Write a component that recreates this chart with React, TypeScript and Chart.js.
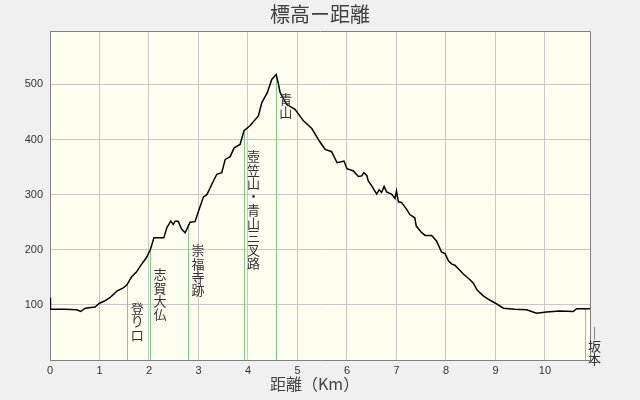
import React, { useEffect, useRef } from "react";
import { Chart, registerables } from "chart.js";

Chart.register(...registerables);

const chartTitle = "標高ー距離";
const xAxisTitle = "距離（Km）";

const distanceKm = [
  0, 0.01, 0.3, 0.54, 0.62, 0.71, 0.91, 1.0, 1.1, 1.21, 1.35, 1.48, 1.55, 1.65, 1.75, 1.82, 1.95, 2.03,
  2.1, 2.3, 2.36, 2.44, 2.49, 2.53, 2.59, 2.66, 2.73, 2.83, 2.93, 3.0, 3.1, 3.17, 3.27, 3.37, 3.47,
  3.54, 3.64, 3.72, 3.84, 3.92, 4.04, 4.21, 4.28, 4.39, 4.48, 4.57, 4.61, 4.65, 4.78, 4.95, 5.12,
  5.29, 5.45, 5.56, 5.69, 5.8, 5.94, 6.0, 6.13, 6.23, 6.3, 6.34, 6.4, 6.43, 6.5, 6.6, 6.65, 6.7,
  6.75, 6.8, 6.9, 6.97, 7.0, 7.04, 7.1, 7.21, 7.27, 7.37, 7.4, 7.51, 7.58, 7.71, 7.81, 7.91, 7.98,
  8.05, 8.12, 8.18, 8.28, 8.35, 8.48, 8.55, 8.63, 8.76, 8.86, 9.0, 9.16, 9.39, 9.63, 9.83, 10.03,
  10.3, 10.57, 10.64, 10.91,
];

const elevationM = [
  113, 92, 92, 91, 88, 94, 96, 103, 107, 113, 125, 131, 136, 151, 160, 170, 186, 201,
  222, 222, 240, 252, 246, 252, 252, 237, 231, 250, 251, 270, 296, 300, 319, 337, 340,
  364, 369, 385, 391, 416, 425, 443, 467, 485, 509, 518, 503, 485, 464, 455, 434,
  420, 396, 382, 378, 358, 361, 347, 343, 333, 334, 340, 335, 325, 316, 301, 309, 304,
  315, 305, 301, 293, 307, 287, 286, 273, 264, 258, 243, 231, 226, 226, 216, 196, 193,
  180, 174, 172, 163, 156, 146, 140, 127, 116, 110, 103, 94, 92, 91, 85, 87,
  89, 88, 93, 93,
];

const landmarkNames = ["登り口", "志賀大仏", "崇福寺跡", "壺笠山・青山三叉路", "青山", "｜坂本"];
const landmarkKm = [1.56, 2.02, 2.79, 3.91, 4.56, 10.8];

const xTickValues = [0, 1, 2, 3, 4, 5, 6, 7, 8, 9, 10];
const yTickValues = [0, 100, 200, 300, 400, 500];

const xMin = 0;
const xMax = 10.91;
const yMin = 0;
const yMax = 597;

function elevationAt(km: number): number {
  for (let i = 1; i < distanceKm.length; i++) {
    if (km <= distanceKm[i]) {
      const x0 = distanceKm[i - 1];
      const x1 = distanceKm[i];
      const t = x1 === x0 ? 0 : (km - x0) / (x1 - x0);
      return elevationM[i - 1] + t * (elevationM[i] - elevationM[i - 1]);
    }
  }
  return elevationM[elevationM.length - 1];
}

const decorPlugin = {
  id: "decor",
  beforeDraw(chart: any) {
    const { ctx, chartArea } = chart;
    ctx.save();
    ctx.fillStyle = "#f0f0f0";
    ctx.fillRect(0, 0, chart.width, chart.height);
    ctx.fillStyle = "#fffff0";
    ctx.fillRect(chartArea.left, chartArea.top, chartArea.right - chartArea.left, chartArea.bottom - chartArea.top);
    ctx.restore();
  },
  beforeDatasetsDraw(chart: any) {
    const { ctx, chartArea, scales } = chart;
    ctx.save();
    ctx.strokeStyle = "#80cc80";
    ctx.lineWidth = 1;
    landmarkKm.forEach((km) => {
      const x = Math.round(scales.x.getPixelForValue(km)) + 0.5;
      const yTop = scales.y.getPixelForValue(elevationAt(km));
      ctx.beginPath();
      ctx.moveTo(x, yTop);
      ctx.lineTo(x, chartArea.bottom);
      ctx.stroke();
    });
    ctx.restore();
  },
  afterDraw(chart: any) {
    const { ctx, chartArea, scales } = chart;
    ctx.save();
    ctx.strokeStyle = "#808080";
    ctx.lineWidth = 1;
    ctx.beginPath();
    ctx.moveTo(chartArea.left, chartArea.top + 0.5);
    ctx.lineTo(chartArea.right + 0.5, chartArea.top + 0.5);
    ctx.lineTo(chartArea.right + 0.5, chartArea.bottom);
    ctx.stroke();

    ctx.fillStyle = "#333333";
    ctx.font = '13px "Noto Sans CJK JP"';
    ctx.textAlign = "center";
    ctx.textBaseline = "middle";
    landmarkNames.forEach((name, i) => {
      const km = landmarkKm[i];
      const x = scales.x.getPixelForValue(km) + 10;
      const yTop = scales.y.getPixelForValue(elevationAt(km));
      Array.from(name).forEach((ch, j) => {
        ctx.fillText(ch, x, yTop + 24 + j * 13.3);
      });
    });

    ctx.fillStyle = "#404040";
    ctx.font = '20px "Noto Sans CJK JP"';
    ctx.textAlign = "center";
    ctx.fillText(chartTitle, 320, 14);

    ctx.font = '16px "Noto Sans CJK JP"';
    ctx.textAlign = "left";
    ctx.fillText(xAxisTitle, 270, 384);
    ctx.restore();
  },
};

export default function App() {
  const canvasRef = useRef<HTMLCanvasElement | null>(null);

  useEffect(() => {
    if (!canvasRef.current) return;
    const chart = new Chart(canvasRef.current, {
      type: "line",
      data: {
        datasets: [
          {
            data: distanceKm.map((d, i) => ({ x: d, y: elevationM[i] })),
            borderColor: "#000000",
            borderWidth: 1.5,
            pointRadius: 0,
            tension: 0,
            fill: false,
          },
        ],
      },
      options: {
        animation: false,
        responsive: false,
        devicePixelRatio: 1,
        layout: { padding: { top: 31, right: 50, left: 0, bottom: 0 } },
        plugins: {
          legend: { display: false },
          title: { display: false },
          tooltip: { enabled: false },
        },
        scales: {
          x: {
            type: "linear",
            min: xMin,
            max: xMax,
            afterBuildTicks: (scale: any) => {
              scale.ticks = xTickValues.map((v) => ({ value: v }));
            },
            afterFit: (scale: any) => {
              scale.height = 40;
            },
            ticks: {
              padding: 4,
              color: "#333333",
              font: { family: "Liberation Sans", size: 11 },
              maxRotation: 0,
              autoSkip: false,
              callback: (v: any) => String(v),
            },
            grid: { color: "#c8c8c8", lineWidth: 1, drawTicks: false },
            border: { color: "#808080", width: 1 },
          },
          y: {
            type: "linear",
            min: yMin,
            max: yMax,
            afterBuildTicks: (scale: any) => {
              scale.ticks = yTickValues.map((v) => ({ value: v }));
            },
            afterFit: (scale: any) => {
              scale.width = 50;
            },
            ticks: {
              padding: 7,
              color: "#333333",
              font: { family: "Liberation Sans", size: 11 },
              autoSkip: false,
              callback: (v: any) => (v === 0 ? "" : String(v)),
            },
            grid: { color: "#c8c8c8", lineWidth: 1, drawTicks: false },
            border: { color: "#808080", width: 1 },
          },
        },
      },
      plugins: [decorPlugin],
    } as any);
    return () => chart.destroy();
  }, []);

  return (
    <div style={{ position: "fixed", left: 0, top: 0, width: 640, height: 400 }}>
      <canvas ref={canvasRef} width={640} height={400} style={{ display: "block" }} />
    </div>
  );
}
